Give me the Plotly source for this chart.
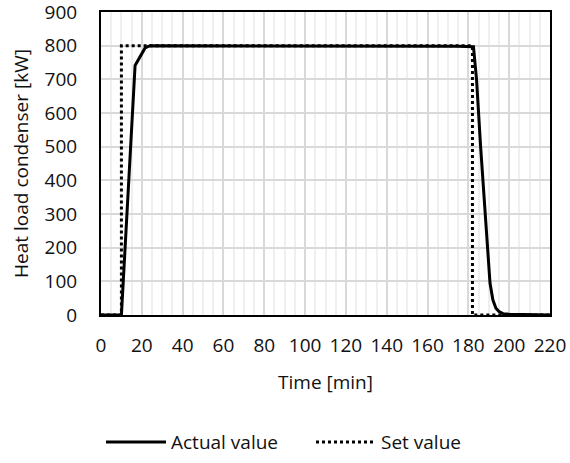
import plotly.graph_objects as go

# Actual value (solid)
actual_t = [0, 10, 16.7, 19, 21.6, 24, 30, 60, 100, 110, 150, 175, 182.5, 184, 186, 188, 189.5, 190.6, 192, 193.5, 195, 197, 200, 210, 220]
actual_q = [0, 0, 741, 765, 793, 800, 800, 800, 800, 798, 798, 798, 797, 700, 500, 310, 180, 95, 45, 20, 10, 4, 2, 1, 0]

# Set value (dotted)
set_t = [0, 10, 10, 182, 182, 220]
set_q = [0, 0, 800, 800, 0, 0]

x_ticks = list(range(0, 221, 20))
y_ticks = list(range(0, 901, 100))

FONT = "Open Sans"
FS = 19

fig = go.Figure()
fig.add_trace(go.Scatter(x=actual_t, y=actual_q, mode="lines", name="Actual value",
                         line=dict(color="black", width=3)))
fig.add_trace(go.Scatter(x=set_t, y=set_q, mode="lines", name="Set value",
                         line=dict(color="black", width=3, dash="dot")))

fig.update_layout(
    width=570, height=463,
    margin=dict(l=101, r=20, t=12, b=148),
    paper_bgcolor="white", plot_bgcolor="white",
    font=dict(family=FONT, size=FS, color="#111111"),
    showlegend=True,
    legend=dict(orientation="h", x=0.0, xanchor="left",
                yref="container", y=0.045, yanchor="middle",
                font=dict(size=FS), itemwidth=60, entrywidth=135,
                bgcolor="rgba(0,0,0,0)"),
    xaxis=dict(
        range=[0, 220], tickvals=x_ticks, ticks="", ticklabelstandoff=12,
        automargin=False, ticklabeloverflow="allow",
        showgrid=True, gridcolor="#d9d9d9", gridwidth=2,
        minor=dict(dtick=5, showgrid=True, gridcolor="#efefef", gridwidth=2),
        showline=True, mirror=True, linecolor="black", linewidth=2,
        zeroline=False,
        title=dict(text="Time [min]", font=dict(size=FS), standoff=19),
    ),
    yaxis=dict(
        range=[0, 900], tickvals=y_ticks, ticks="", ticklabelstandoff=18,
        automargin=False, ticklabeloverflow="allow",
        showgrid=True, gridcolor="#d9d9d9", gridwidth=2,
        showline=True, mirror=True, linecolor="black", linewidth=2,
        zeroline=False,
        title=dict(text="Heat load condenser [kW]", font=dict(size=FS), standoff=11),
    ),
)

fig.write_html("out.html", config={"displayModeBar": False},
               post_script="document.body.style.margin='0px';")
